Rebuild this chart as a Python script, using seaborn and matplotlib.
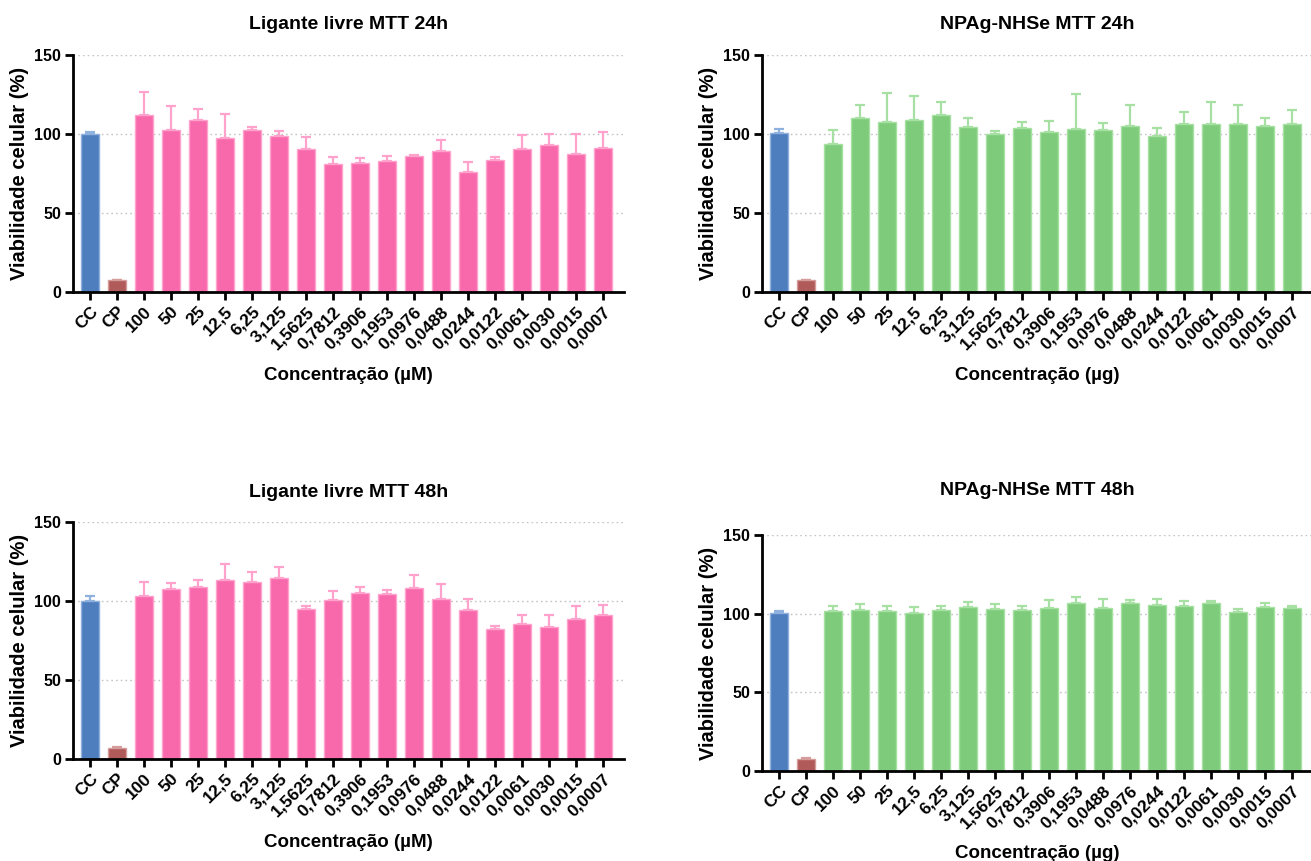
import matplotlib
matplotlib.use("Agg")
import matplotlib.pyplot as plt
import pandas as pd
import seaborn as sns

sns.set_style("ticks")
plt.rcParams["font.family"] = ["Liberation Sans", "DejaVu Sans"]
plt.rcParams["font.weight"] = "bold"
plt.rcParams["text.color"] = "black"
plt.rcParams["axes.labelcolor"] = "black"
plt.rcParams["xtick.color"] = "black"
plt.rcParams["ytick.color"] = "black"

# ---- categories -------------------------------------------------------------
conc_ligante = ["CC", "CP", "100", "50", "25", "12,5", "6,25", "3,125", "1,5625",
                "0,7812", "0,3906", "0,1953", "0,0976", "0,0488", "0,0244",
                "0,0122", "0,0061", "0,0030", "0,0015", "0,0007"]
conc_np_24h = conc_ligante
conc_np_48h = ["CC", "CP", "100", "50", "25", "12,5", "6,25", "3,125", "1,5625",
               "0,7812", "0,3906", "0,1953", "0,0488", "0,0976", "0,0244",
               "0,0122", "0,0061", "0,0030", "0,0015", "0,0007"]

# ---- cell viability (%) means and upper SD ----------------------------------
ligante_24h = [100.0, 7.4, 111.9, 102.8, 108.7, 97.7, 102.8, 98.5, 90.5, 80.9,
               81.6, 82.8, 86.0, 89.2, 76.1, 83.5, 90.7, 93.0, 87.3, 90.9]
ligante_24h_sd = [1.5, 0.3, 14.6, 15.2, 7.0, 15.0, 1.6, 3.2, 7.6, 4.5,
                  2.9, 3.4, 0.9, 6.8, 6.3, 1.7, 8.7, 7.0, 12.7, 10.1]

np_24h = [100.4, 7.4, 93.4, 110.0, 107.6, 108.7, 112.0, 104.2, 100.0, 104.0,
          101.3, 103.2, 102.5, 105.3, 98.9, 106.6, 106.4, 106.6, 105.1, 106.6]
np_24h_sd = [2.6, 0.3, 8.9, 8.6, 18.4, 15.3, 8.0, 6.2, 1.9, 3.8,
             7.2, 22.0, 4.5, 13.1, 4.9, 7.4, 13.9, 11.6, 4.9, 8.4]

ligante_48h = [99.8, 7.2, 103.0, 107.6, 108.9, 113.1, 111.9, 114.8, 94.7, 100.8,
               104.9, 104.4, 108.3, 101.1, 94.3, 82.2, 85.4, 83.5, 88.8, 91.3]
ligante_48h_sd = [3.4, 0.4, 9.3, 4.1, 4.7, 10.4, 6.7, 6.6, 2.3, 5.6,
                  3.8, 2.6, 8.0, 9.9, 7.2, 2.1, 5.7, 7.4, 8.2, 6.4]

np_48h = [100.6, 7.8, 101.7, 102.3, 101.9, 100.6, 102.3, 104.4, 103.2, 102.3,
          103.8, 106.6, 103.6, 106.8, 105.7, 104.9, 106.6, 101.1, 104.4, 103.4]
np_48h_sd = [1.3, 0.5, 3.2, 3.6, 3.2, 3.6, 2.6, 3.2, 2.7, 2.6,
             5.1, 4.2, 5.9, 1.7, 3.4, 3.4, 1.7, 2.1, 2.6, 1.3]

# ---- colours ----------------------------------------------------------------
FILL = {"cc": "#4F7EBE", "cp": "#B15A5A", "lig": "#F869AC", "np": "#7FCB7C"}
LIGHT = {"cc": "#8FB1DE", "cp": "#D59C9C", "lig": "#FFA3CD", "np": "#A6E1A3"}

fig = plt.figure(figsize=(13.11, 8.61), dpi=100)

W, H = 1311, 861


def axes_at(left_px, top_px, bottom_px, width_px=551):
    return fig.add_axes([left_px / W, (H - bottom_px) / H,
                         width_px / W, (bottom_px - top_px) / H])


def panel(ax, labels, means, sds, kind, title, xlabel, title_pad):
    keys = ["cc", "cp"] + [kind] * (len(labels) - 2)
    df = pd.DataFrame({"conc": labels, "viab": means})
    palette = {lab: FILL[k] for lab, k in zip(labels, keys)}
    sns.barplot(data=df, x="conc", y="viab", hue="conc", order=labels,
                hue_order=labels, palette=palette, dodge=False, width=0.67,
                errorbar=None, legend=False, saturation=1, ax=ax, zorder=2)
    for patch, k in zip(ax.patches, keys):
        patch.set_edgecolor(LIGHT[k])
        patch.set_linewidth(1.0)
    for i, (m, s, k) in enumerate(zip(means, sds, keys)):
        ax.errorbar(i, m, yerr=[[0], [s]], fmt="none", ecolor=LIGHT[k],
                    elinewidth=1.6, capsize=3.6, capthick=1.6, zorder=1.5)

    ax.set_ylim(0, 150)
    ax.set_xlim(-0.63, len(labels) - 1 + 0.78)
    ax.set_yticks([0, 50, 100, 150])
    for yv in (50, 100, 150):
        ax.axhline(yv, color="#C4C4C4", lw=1.0, ls=(0, (1.2, 2.2)), zorder=0)

    sns.despine(ax=ax)
    for side in ("left", "bottom"):
        ax.spines[side].set_linewidth(2.0)
        ax.spines[side].set_color("black")
    ax.tick_params(axis="both", direction="out", length=5.5, width=2.0,
                   color="black", labelcolor="black")
    ax.tick_params(axis="y", labelsize=11.5, pad=3)
    ax.tick_params(axis="x", labelsize=12.5, pad=3)
    for t in ax.get_xticklabels():
        t.set_rotation(45)
        t.set_ha("right")
        t.set_rotation_mode("anchor")
        t.set_fontweight("bold")
    for t in ax.get_yticklabels():
        t.set_fontweight("bold")

    ax.set_ylabel("Viabilidade celular (%)", fontsize=14.5, fontweight="bold",
                  color="black")
    ax.yaxis.set_label_coords(-0.080, 0.5)
    ax.set_xlabel(xlabel, fontsize=13.5, fontweight="bold", color="black")
    ax.xaxis.set_label_coords(0.5, -0.315)
    ax.set_title(title, fontsize=14, fontweight="bold", pad=title_pad,
                 color="black")


ax1 = axes_at(73, 55, 292)
panel(ax1, conc_ligante, ligante_24h, ligante_24h_sd, "lig",
      "Ligante livre MTT 24h", "Concentração (µM)", 18.5)

ax2 = axes_at(762, 55, 292)
panel(ax2, conc_np_24h, np_24h, np_24h_sd, "np",
      "NPAg-NHSe MTT 24h", "Concentração (µg)", 18.5)

ax3 = axes_at(73, 522, 759)
panel(ax3, conc_ligante, ligante_48h, ligante_48h_sd, "lig",
      "Ligante livre MTT 48h", "Concentração (µM)", 18.0)

ax4 = axes_at(762, 535, 771)
panel(ax4, conc_np_48h, np_48h, np_48h_sd, "np",
      "NPAg-NHSe MTT 48h", "Concentração (µg)", 29.0)

fig.savefig("out.png", dpi=100)
